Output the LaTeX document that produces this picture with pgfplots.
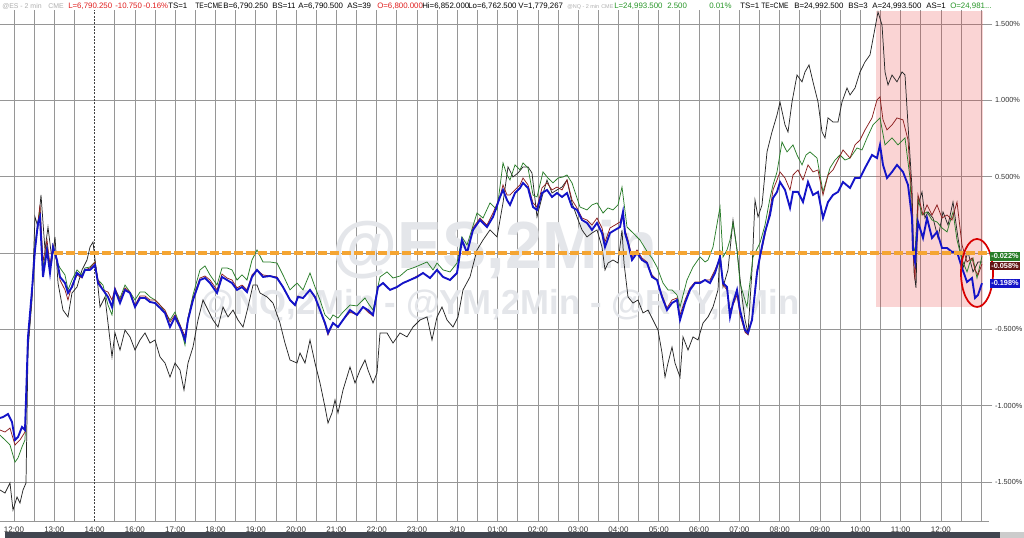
\documentclass[border=0pt]{standalone}
\usepackage{fontspec}
\setmainfont{Liberation Sans}
\usepackage{pgfplots}
\pgfplotsset{compat=1.18}

\definecolor{gridgray}{RGB}{150,150,150}
\definecolor{esblue}{RGB}{20,20,200}
\definecolor{ymred}{RGB}{140,30,30}
\definecolor{nqgreen}{RGB}{40,125,40}
\definecolor{zeroorange}{RGB}{245,165,50}
\definecolor{hdrred}{RGB}{225,30,30}
\definecolor{hdrgreen}{RGB}{40,150,40}
\definecolor{hdrgray}{RGB}{175,175,175}
\definecolor{wmgray}{RGB}{228,230,234}
\definecolor{hilite}{RGB}{230,40,40}
\definecolor{barfill}{RGB}{65,70,80}

% header text item: x position (chart px), colour, text
\newcommand{\hdr}[3]{\node[anchor=base west, inner sep=0pt, text=#2,
  font=\fontsize{5.9}{7}\selectfont] at (axis cs:#1,1.605) {#3};}
% smaller header item (symbol names)
\newcommand{\hdrs}[4]{\node[anchor=base west, inner sep=0pt, text=#2,
  font=\fontsize{#4}{7}\selectfont] at (axis cs:#1,1.605) {#3};}
% value box on the right edge
\newcommand{\valbox}[3]{\node[anchor=west, fill=#2, text=white, inner sep=0.8pt,
  minimum width=20pt, minimum height=6.5pt,
  font=\fontsize{5.5}{6}\selectfont\bfseries] at (axis cs:990,#1) {#3};}

\begin{document}
\begin{tikzpicture}
\useasboundingbox (0,-12.75pt) rectangle (768pt,390.75pt);
\fill[white] (0,-12.75pt) rectangle (768pt,390.75pt);
\begin{axis}[
  scale only axis, width=741.75pt, height=383.25pt,
  xmin=0, xmax=989, ymin=-1.756, ymax=1.592,
  clip=false,
  axis x line*=bottom, axis y line*=right,
  x axis line style={draw=gridgray, line width=0.6pt, -},
  y axis line style={draw=none},
  tick align=outside,
  major tick length=2.5pt,
  xtick style={draw=none},
  ytick style={draw=gridgray, line width=0.6pt},
  grid=major,
  major grid style={draw=gridgray, line width=0.6pt},
  xtick={14.00,34.15,54.30,74.45,114.75,134.90,155.05,175.20,195.35,215.50,235.65,255.80,275.95,296.10,316.25,336.40,356.55,376.70,396.85,417.00,437.15,457.30,477.45,497.60,517.75,537.90,558.05,578.20,598.35,618.50,638.65,658.80,678.95,699.10,719.25,739.40,759.55,779.70,799.85,820.00,840.15,860.30,880.45,900.60,920.75,940.90,961.05,981.20},
  xticklabels={12:00,,13:00,,,16:00,,17:00,,18:00,,19:00,,20:00,,21:00,,22:00,,23:00,,3/10,,01:00,,02:00,,03:00,,04:00,,05:00,,06:00,,07:00,,08:00,,09:00,,10:00,,11:00,,12:00,,},
  extra x ticks={94.60},
  extra x tick labels={14:00},
  extra x tick style={grid=major, major grid style={draw=black!75, line width=0.6pt, dash pattern=on 1.5pt off 1pt}},
  xticklabel style={font=\fontsize{6}{6.5}\selectfont, text=black!80, yshift=1.8pt},
  ytick={-1.5,-1,-0.5,0,0.5,1,1.5},
  yticklabels={-1.500\%,-1.000\%,-0.500\%,,0.500\%,1.000\%,1.500\%},
  yticklabel style={font=\fontsize{5.5}{6}\selectfont, text=black!80, xshift=-1.5pt},
]
% watermark
\node[text=wmgray, font=\fontsize{50}{50}\selectfont\bfseries] at (axis cs:495,0.02) {@ES,2Min};
\node[text=wmgray, font=\fontsize{26}{26}\selectfont\bfseries] at (axis cs:500,-0.341) {@NQ,2Min - @YM,2Min - @RTY,2Min};
% highlighted window
\fill[hilite, fill opacity=0.2] (axis cs:876,1.585) rectangle (axis cs:983,-0.354);

% RTY
\addplot[black!85, line width=0.55pt] coordinates {
(0,-1.553)(5,-1.573)(10,-1.507)(13,-1.684)(17,-1.599)(20,-1.638)(23,-1.553)(26,-1.507)(28,-0.636)(32,-0.308)(35,0.236)(38,0.170)(41,0.380)(45,0.020)(48,0.170)(52,-0.046)(55,0.105)(58,-0.197)(63,-0.374)(68,-0.419)(72,-0.262)(77,-0.223)(82,-0.111)(87,-0.046)(90,0.039)(93,0.072)(97,-0.157)(100,-0.354)(105,-0.288)(108,-0.459)(112,-0.681)(115,-0.524)(120,-0.636)(125,-0.505)(130,-0.550)(135,-0.636)(140,-0.570)(145,-0.524)(150,-0.590)(155,-0.570)(160,-0.681)(165,-0.721)(170,-0.813)(175,-0.721)(180,-0.767)(184,-0.898)(188,-0.721)(193,-0.616)(198,-0.439)(203,-0.308)(208,-0.374)(213,-0.439)(218,-0.485)(223,-0.354)(228,-0.419)(233,-0.374)(238,-0.439)(243,-0.485)(248,-0.354)(253,-0.210)(257,-0.210)(260,-0.262)(267,-0.288)(273,-0.328)(280,-0.459)(285,-0.590)(290,-0.701)(297,-0.721)(300,-0.655)(305,-0.721)(310,-0.570)(315,-0.721)(320,-0.852)(325,-1.009)(328,-1.114)(332,-1.048)(335,-0.963)(338,-1.048)(343,-0.898)(350,-0.747)(355,-0.852)(360,-0.767)(365,-0.701)(368,-0.767)(373,-0.852)(377,-0.786)(380,-0.524)(387,-0.524)(393,-0.590)(400,-0.524)(407,-0.550)(413,-0.485)(420,-0.439)(427,-0.419)(432,-0.570)(437,-0.419)(442,-0.354)(447,-0.439)(453,-0.485)(458,-0.419)(463,-0.242)(470,-0.157)(477,0.020)(483,0.085)(490,0.151)(497,0.105)(503,0.328)(508,0.564)(513,0.498)(518,0.524)(523,0.564)(528,0.564)(532,0.524)(537,0.236)(542,0.367)(547,0.478)(552,0.393)(557,0.413)(562,0.432)(567,0.478)(572,0.328)(577,0.236)(582,0.151)(587,0.105)(592,0.131)(597,0.151)(602,0.039)(605,-0.111)(608,-0.066)(613,-0.046)(618,-0.066)(622,0.151)(624,-0.066)(628,-0.288)(633,-0.328)(638,-0.308)(643,-0.393)(648,-0.374)(653,-0.439)(658,-0.505)(662,-0.655)(665,-0.813)(668,-0.721)(672,-0.616)(675,-0.721)(680,-0.813)(683,-0.550)(688,-0.636)(693,-0.550)(698,-0.570)(703,-0.459)(708,-0.419)(713,-0.354)(718,-0.242)(720,0.020)(723,-0.223)(728,-0.111)(733,0.216)(737,0.020)(742,-0.288)(745,-0.439)(748,-0.524)(752,-0.111)(755,0.347)(758,0.236)(762,0.315)(767,0.662)(772,0.793)(777,0.904)(780,0.989)(785,0.839)(788,0.793)(792,0.989)(797,1.166)(802,1.121)(805,1.186)(809,1.232)(813,1.121)(818,0.989)(822,0.793)(825,0.754)(828,0.885)(833,0.858)(838,0.858)(842,0.989)(847,1.081)(850,1.035)(855,1.081)(860,1.186)(865,1.252)(870,1.298)(875,1.474)(878,1.579)(882,1.494)(885,1.186)(888,1.101)(892,1.166)(897,1.121)(902,1.186)(905,1.166)(908,0.839)(912,0.426)(914,-0.124)(916,-0.229)(918,0.315)(922,0.400)(925,0.229)(928,0.269)(933,0.229)(938,0.098)(943,0.269)(948,0.183)(953,0.334)(958,0.098)(963,-0.098)(968,0.007)(973,-0.124)(978,-0.059)(982,-0.059)
};
% NQ
\addplot[nqgreen, line width=0.55pt] coordinates {
(0,-1.193)(5,-1.225)(10,-1.258)(15,-1.370)(18,-1.343)(22,-1.271)(25,-1.225)(28,-0.603)(32,-0.275)(35,0.052)(38,0.203)(40,0.282)(43,-0.098)(47,0.052)(50,-0.098)(53,0.033)(57,-0.059)(60,-0.098)(65,-0.144)(68,-0.242)(72,-0.177)(77,-0.111)(82,-0.144)(85,-0.098)(90,-0.092)(95,-0.059)(98,-0.177)(103,-0.210)(108,-0.341)(112,-0.406)(115,-0.242)(120,-0.295)(125,-0.210)(130,-0.256)(135,-0.308)(140,-0.256)(145,-0.256)(150,-0.288)(155,-0.308)(160,-0.341)(165,-0.387)(170,-0.439)(175,-0.387)(180,-0.472)(185,-0.603)(188,-0.426)(193,-0.275)(200,-0.111)(205,-0.085)(210,-0.144)(217,-0.210)(222,-0.098)(227,-0.098)(232,-0.111)(237,-0.177)(242,-0.144)(247,-0.177)(252,-0.046)(257,0.020)(263,-0.059)(270,-0.059)(277,-0.066)(283,-0.144)(290,-0.242)(297,-0.197)(303,-0.242)(310,-0.131)(315,-0.223)(320,-0.308)(325,-0.406)(330,-0.439)(333,-0.406)(338,-0.426)(343,-0.387)(350,-0.341)(357,-0.347)(365,-0.295)(368,-0.328)(373,-0.374)(380,-0.157)(387,-0.124)(393,-0.164)(400,-0.151)(407,-0.111)(413,-0.098)(420,-0.079)(427,-0.059)(433,-0.111)(437,-0.066)(443,-0.111)(450,-0.124)(457,-0.066)(462,0.105)(467,0.052)(477,0.262)(483,0.229)(490,0.328)(497,0.282)(503,0.590)(507,0.511)(510,0.478)(515,0.577)(520,0.544)(523,0.590)(528,0.557)(533,0.380)(537,0.367)(543,0.531)(548,0.491)(553,0.459)(558,0.491)(563,0.498)(567,0.511)(572,0.459)(580,0.301)(587,0.282)(592,0.315)(597,0.328)(603,0.262)(608,0.295)(613,0.282)(618,0.315)(622,0.432)(627,0.170)(633,0.131)(640,0.085)(648,0.000)(652,-0.033)(657,-0.092)(663,-0.197)(668,-0.242)(672,-0.242)(677,-0.275)(680,-0.354)(687,-0.177)(693,-0.092)(700,-0.026)(705,-0.059)(708,-0.046)(713,0.039)(720,0.301)(723,-0.026)(727,0.020)(730,0.085)(733,0.197)(737,0.020)(740,-0.197)(747,-0.354)(753,-0.026)(760,0.066)(765,0.183)(770,0.360)(773,0.446)(777,0.531)(782,0.727)(787,0.662)(793,0.708)(797,0.642)(802,0.577)(806,0.642)(810,0.662)(817,0.622)(823,0.400)(830,0.557)(835,0.609)(840,0.642)(845,0.609)(850,0.622)(857,0.688)(862,0.675)(867,0.754)(873,0.839)(880,0.885)(885,0.708)(892,0.754)(898,0.708)(905,0.754)(910,0.491)(913,0.052)(915,0.007)(918,0.360)(922,0.249)(927,0.269)(932,0.216)(937,0.203)(942,0.164)(947,0.138)(953,0.269)(957,0.085)(960,0.007)(963,-0.059)(967,-0.124)(970,-0.059)(973,-0.033)(977,-0.164)(982,-0.022)
};
% YM
\addplot[ymred, line width=0.55pt] coordinates {
(0,-1.160)(5,-1.173)(10,-1.147)(15,-1.258)(20,-1.225)(25,-1.173)(28,-0.603)(32,-0.275)(35,0.020)(38,0.203)(40,0.315)(43,-0.059)(47,0.085)(50,-0.079)(53,0.052)(57,-0.059)(60,-0.177)(65,-0.242)(68,-0.308)(72,-0.210)(77,-0.144)(82,-0.164)(85,-0.111)(90,-0.098)(95,-0.059)(98,-0.177)(103,-0.242)(108,-0.256)(112,-0.308)(115,-0.229)(120,-0.308)(125,-0.229)(130,-0.256)(135,-0.341)(140,-0.282)(145,-0.282)(150,-0.308)(155,-0.308)(160,-0.341)(165,-0.374)(170,-0.452)(175,-0.406)(180,-0.472)(185,-0.544)(188,-0.426)(193,-0.295)(200,-0.164)(205,-0.151)(210,-0.177)(217,-0.242)(222,-0.138)(227,-0.164)(232,-0.177)(237,-0.229)(242,-0.210)(247,-0.242)(252,-0.144)(257,-0.111)(263,-0.144)(277,-0.157)(283,-0.223)(290,-0.308)(295,-0.341)(298,-0.282)(303,-0.295)(310,-0.242)(315,-0.295)(320,-0.374)(325,-0.472)(328,-0.537)(333,-0.459)(338,-0.485)(343,-0.439)(350,-0.387)(357,-0.406)(363,-0.354)(368,-0.387)(373,-0.413)(378,-0.223)(383,-0.197)(390,-0.242)(397,-0.223)(403,-0.197)(410,-0.177)(417,-0.151)(423,-0.131)(430,-0.164)(437,-0.111)(443,-0.157)(450,-0.177)(457,-0.131)(462,0.085)(467,0.007)(473,0.164)(480,0.229)(487,0.183)(493,0.262)(500,0.367)(503,0.446)(507,0.380)(510,0.380)(515,0.413)(520,0.446)(523,0.491)(528,0.446)(533,0.328)(537,0.301)(542,0.426)(547,0.459)(552,0.413)(557,0.432)(562,0.413)(567,0.478)(572,0.347)(577,0.295)(582,0.229)(587,0.216)(592,0.183)(597,0.229)(602,0.164)(605,0.072)(610,0.164)(615,0.183)(620,0.203)(623,0.269)(625,0.151)(628,0.085)(632,-0.026)(637,0.020)(642,-0.033)(647,-0.059)(652,-0.144)(657,-0.177)(662,-0.275)(667,-0.360)(672,-0.308)(677,-0.295)(680,-0.406)(685,-0.308)(690,-0.229)(695,-0.190)(700,-0.190)(705,-0.177)(710,-0.177)(715,-0.111)(720,-0.033)(723,-0.210)(727,-0.242)(730,-0.374)(733,-0.341)(737,-0.275)(740,-0.406)(745,-0.518)(748,-0.537)(752,-0.426)(757,-0.111)(760,-0.033)(765,0.118)(770,0.282)(773,0.413)(777,0.478)(780,0.531)(785,0.491)(790,0.413)(793,0.511)(798,0.544)(803,0.478)(808,0.577)(813,0.531)(818,0.544)(823,0.380)(828,0.511)(833,0.544)(838,0.609)(843,0.675)(850,0.622)(855,0.708)(860,0.740)(865,0.806)(872,0.885)(877,1.003)(880,1.022)(883,0.872)(887,0.806)(892,0.839)(897,0.885)(903,0.872)(908,0.740)(912,0.347)(913,0.020)(915,-0.177)(918,0.380)(923,0.249)(927,0.315)(932,0.249)(937,0.315)(942,0.229)(947,0.249)(952,0.216)(957,0.334)(962,0.052)(967,-0.059)(972,-0.033)(975,-0.111)(978,-0.144)(982,-0.072)
};
% ES
\addplot[esblue, line width=1.4pt] coordinates {
(0,-1.081)(3,-1.075)(8,-1.055)(12,-1.107)(15,-1.225)(18,-1.206)(22,-1.140)(25,-1.160)(28,-0.550)(32,-0.242)(35,0.020)(38,0.197)(40,0.236)(43,-0.157)(47,0.020)(50,-0.131)(53,0.039)(57,-0.046)(60,-0.157)(65,-0.197)(68,-0.262)(72,-0.223)(77,-0.131)(82,-0.157)(85,-0.111)(90,-0.111)(95,-0.079)(98,-0.197)(103,-0.242)(108,-0.288)(112,-0.354)(115,-0.242)(120,-0.328)(125,-0.242)(130,-0.262)(135,-0.354)(140,-0.295)(145,-0.295)(150,-0.321)(155,-0.328)(160,-0.360)(165,-0.393)(170,-0.485)(175,-0.419)(180,-0.485)(185,-0.570)(188,-0.439)(193,-0.308)(200,-0.177)(205,-0.164)(210,-0.197)(217,-0.262)(222,-0.157)(227,-0.177)(232,-0.197)(237,-0.242)(242,-0.223)(247,-0.256)(252,-0.157)(257,-0.111)(263,-0.157)(270,-0.151)(277,-0.164)(283,-0.223)(290,-0.308)(295,-0.341)(298,-0.288)(303,-0.295)(310,-0.242)(315,-0.288)(320,-0.374)(325,-0.459)(328,-0.524)(333,-0.459)(338,-0.485)(343,-0.439)(350,-0.374)(357,-0.406)(363,-0.354)(368,-0.374)(373,-0.406)(378,-0.223)(383,-0.197)(390,-0.242)(397,-0.223)(403,-0.197)(410,-0.177)(417,-0.157)(423,-0.131)(430,-0.164)(437,-0.111)(443,-0.157)(450,-0.177)(457,-0.131)(462,0.085)(467,0.000)(473,0.151)(480,0.216)(487,0.170)(493,0.236)(500,0.367)(503,0.413)(507,0.347)(510,0.315)(515,0.393)(520,0.426)(523,0.459)(528,0.426)(533,0.301)(537,0.282)(542,0.393)(547,0.413)(552,0.367)(557,0.393)(562,0.367)(567,0.393)(572,0.301)(577,0.282)(582,0.216)(587,0.197)(592,0.151)(597,0.197)(602,0.131)(605,0.039)(610,0.131)(615,0.151)(620,0.170)(623,0.269)(625,0.131)(628,0.066)(632,-0.046)(637,0.000)(642,-0.046)(647,-0.066)(652,-0.157)(657,-0.177)(662,-0.288)(667,-0.374)(672,-0.328)(677,-0.308)(680,-0.439)(685,-0.328)(690,-0.242)(695,-0.197)(700,-0.197)(705,-0.177)(710,-0.197)(715,-0.131)(720,-0.026)(723,-0.197)(727,-0.223)(730,-0.419)(733,-0.328)(737,-0.242)(740,-0.374)(745,-0.505)(748,-0.524)(752,-0.439)(757,-0.131)(760,-0.020)(765,0.138)(770,0.249)(773,0.360)(777,0.400)(780,0.465)(785,0.413)(790,0.295)(793,0.400)(798,0.400)(803,0.334)(808,0.465)(813,0.380)(818,0.400)(823,0.229)(828,0.334)(833,0.380)(838,0.400)(843,0.465)(850,0.426)(855,0.491)(860,0.491)(865,0.557)(872,0.642)(877,0.622)(880,0.708)(883,0.577)(887,0.491)(892,0.531)(897,0.577)(903,0.531)(908,0.446)(912,0.229)(913,0.007)(915,-0.059)(918,0.203)(923,0.098)(927,0.229)(932,0.098)(937,0.138)(942,0.033)(947,0.033)(952,0.007)(957,0.007)(962,-0.098)(967,-0.190)(972,-0.164)(975,-0.295)(978,-0.275)(982,-0.198)
};

% zero line and markup
\draw[zeroorange, line width=2.3pt, dash pattern=on 6.5pt off 2.5pt] (axis cs:54,0) -- (axis cs:989,0);
\draw[red!85!black, line width=1.3pt] (axis cs:977,-0.131) ellipse [x radius=12pt, y radius=25.5pt];

% value boxes
\valbox{-0.085}{ymred!70!black}{-0.058\%}
\valbox{-0.022}{nqgreen}{-0.022\%}
\valbox{-0.198}{esblue}{-0.198\%}

% header line
\hdrs{2}{hdrgray}{@ES - 2 min}{5.2}
\hdrs{48}{hdrgray}{CME}{5.2}
\hdr{68}{hdrred}{L=6,790.250}
\hdr{115}{hdrred}{-10.750}
\hdr{143}{hdrred}{-0.16\%}
\hdr{168}{black}{TS=1}
\hdr{195}{black}{\scalebox{0.85}[1]{TE=CME}}
\hdr{223}{black}{B=6,790.250}
\hdr{272}{black}{BS=11}
\hdr{298}{black}{A=6,790.500}
\hdr{347}{black}{AS=39}
\hdr{377}{hdrred}{O=6,800.000}
\hdr{422}{black}{Hi=6,852.000}
\hdr{468}{black}{Lo=6,762.500}
\hdr{518}{black}{V=1,779,267}
\hdrs{567}{hdrgray}{@NQ - 2 min}{4.1}
\hdrs{601}{hdrgray}{CME}{4.1}
\hdr{614}{hdrgreen}{L=24,993.500}
\hdr{667}{hdrgreen}{2.500}
\hdr{709}{hdrgreen}{0.01\%}
\hdr{740}{black}{TS=1}
\hdr{761}{black}{\scalebox{0.85}[1]{TE=CME}}
\hdr{794}{black}{B=24,992.500}
\hdr{848}{black}{BS=3}
\hdr{872}{black}{A=24,993.500}
\hdr{926}{black}{AS=1}
\hdr{950}{hdrgreen}{O=24,981...}
\end{axis}
% scroll bar strip at the bottom
\fill[barfill] (3.75pt,-12.75pt) rectangle (750pt,-8.5pt);
\fill[black!20] (750pt,-12.75pt) rectangle (768pt,-8.5pt);
\end{tikzpicture}
\end{document}
